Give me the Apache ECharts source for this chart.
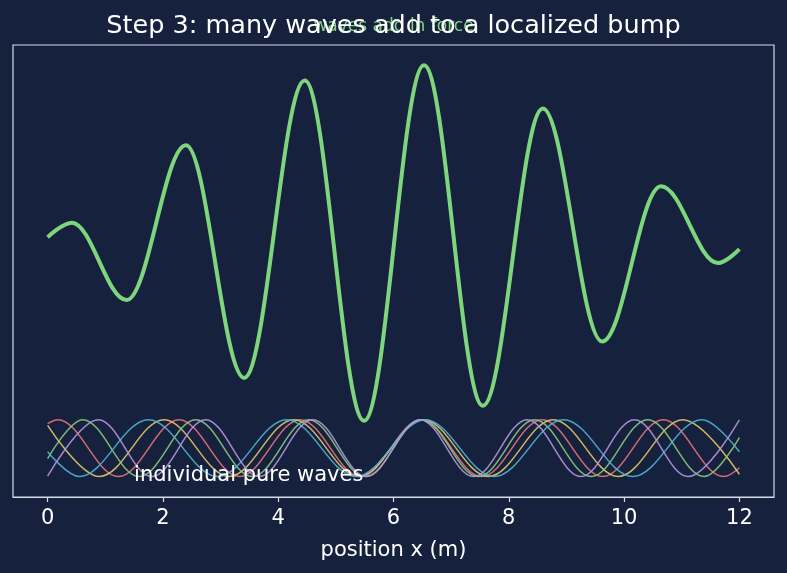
<!DOCTYPE html>
<html>
<head>
<meta charset="utf-8">
<title>many waves add to a localized bump</title>
<script src="https://cdn.jsdelivr.net/npm/echarts@6/dist/echarts.min.js"></script>
<style>
  html, body { margin: 0; padding: 0; background: #16213e; }
  #chart { width: 787px; height: 573px; }
</style>
</head>
<body>
<div id="chart"></div>
<script>
// tick labels on the position axis
const xTicks = [0, 2, 4, 6, 8, 10, 12];

// summed wave, crests and troughs: [x (m), height]
const sumWave = [
  [0, 7.42], [0.42, 7.93], [1.37, 5.21], [2.4, 10.65], [3.41, 2.47], [4.46, 12.93],
  [5.49, 0.96], [6.53, 13.47], [7.55, 1.49], [8.59, 11.95], [9.62, 3.75], [10.64, 9.21],
  [11.63, 6.51], [12, 7.0]
];

// the five pure waves (ends, crests, troughs), amplitude 1
const redWave = [
  [0, 0.86], [0.18, 1], [1.23, -1], [2.28, 1], [3.33, -1], [4.38, 1], [5.43, -1],
  [6.48, 1], [7.53, -1], [8.58, 1], [9.63, -1], [10.68, 1], [11.73, -1], [12, -0.69]
];
const yellowWave = [
  [0, 0.8], [0.9, -1], [2.02, 1], [3.15, -1], [4.27, 1], [5.4, -1], [6.52, 1],
  [7.65, -1], [8.77, 1], [9.9, -1], [11.02, 1], [12, -0.92]
];
const greenWave = [
  [0, -0.37], [0.61, 1], [1.59, -1], [2.57, 1], [3.55, -1], [4.53, 1], [5.51, -1],
  [6.49, 1], [7.47, -1], [8.45, 1], [9.43, -1], [10.41, 1], [11.39, -1], [12, 0.37]
];
const cyanWave = [
  [0, -0.13], [0.55, -1], [1.75, 1], [2.95, -1], [4.15, 1], [5.35, -1], [6.55, 1],
  [7.75, -1], [8.95, 1], [10.15, -1], [11.35, 1], [12, -0.13]
];
const purpleWave = [
  [0, -0.99], [0.88, 1], [1.81, -1], [2.74, 1], [3.67, -1], [4.6, 1], [5.53, -1],
  [6.46, 1], [7.39, -1], [8.32, 1], [9.25, -1], [10.18, 1], [11.11, -1], [12, 0.99]
];

const waves = [redWave, yellowWave, greenWave, cyanWave, purpleWave];
const waveColors = ['#e8727a', '#e3c56c', '#88c97c', '#4fb3d4', '#b496dc'];

const font = 'DejaVu Sans';
const chart = echarts.init(document.getElementById('chart'));

// smoothMonotone 'x' keeps crests flat, smooth ~0.36 gives a cosine-like swing
const series = waves.map((data, i) => ({
  type: 'line',
  data: data,
  smooth: 0.36,
  smoothMonotone: 'x',
  symbol: 'none',
  silent: true,
  lineStyle: { width: 1.5, color: waveColors[i], opacity: 0.9 },
  z: 2
}));

// the sum
series.push({
  type: 'line',
  data: sumWave,
  smooth: 0.36,
  smoothMonotone: 'x',
  symbol: 'none',
  silent: true,
  lineStyle: { width: 4, color: '#7ed67c' },
  z: 3
});

// text notes in data coordinates
series.push({
  type: 'scatter',
  data: [[1.5, -0.97]],
  symbolSize: 0,
  clip: false,
  silent: true,
  z: 4,
  itemStyle: { opacity: 1 },
  label: {
    show: true, position: 'inside', align: 'left', verticalAlign: 'middle',
    formatter: 'individual pure waves', color: '#ffffff', textBorderWidth: 0,
    fontSize: 21, fontFamily: font
  }
});
series.push({
  type: 'scatter',
  data: [[6, 14.82]],
  symbolSize: 0,
  clip: false,
  silent: true,
  z: 1,
  itemStyle: { opacity: 1 },
  label: {
    show: true, position: 'inside', align: 'center', verticalAlign: 'middle',
    formatter: 'waves add in force', color: '#7ed67c', textBorderWidth: 0,
    fontSize: 17, fontFamily: font
  }
});

const option = {
  backgroundColor: '#16213e',
  animation: false,
  title: {
    text: 'Step 3: many waves add to a localized bump',
    left: 'center',
    top: 13,
    padding: 0,
    textStyle: { color: '#ffffff', fontSize: 25.5, fontWeight: 'normal', fontFamily: font }
  },
  grid: {
    left: 13, right: 13, top: 45, bottom: 76,
    show: true, borderColor: '#d4dbe6', borderWidth: 1.2, backgroundColor: 'transparent'
  },
  xAxis: {
    type: 'value',
    min: -0.6,
    max: 12.6,
    name: 'position x (m)',
    nameLocation: 'middle',
    nameGap: 43,
    nameTextStyle: { color: '#ffffff', fontSize: 21, fontFamily: font },
    axisLine: { show: true, onZero: false, lineStyle: { color: '#d4dbe6', width: 1.2 } },
    axisTick: { show: true, customValues: xTicks, length: 5, lineStyle: { color: '#d4dbe6', width: 1.2 } },
    axisLabel: { customValues: xTicks, color: '#ffffff', fontSize: 21, fontFamily: font, margin: 11 },
    splitLine: { show: false }
  },
  yAxis: {
    type: 'value',
    min: -1.72,
    max: 14.18,
    show: false,
    splitLine: { show: false }
  },
  series: series
};

chart.setOption(option);
</script>
</body>
</html>
